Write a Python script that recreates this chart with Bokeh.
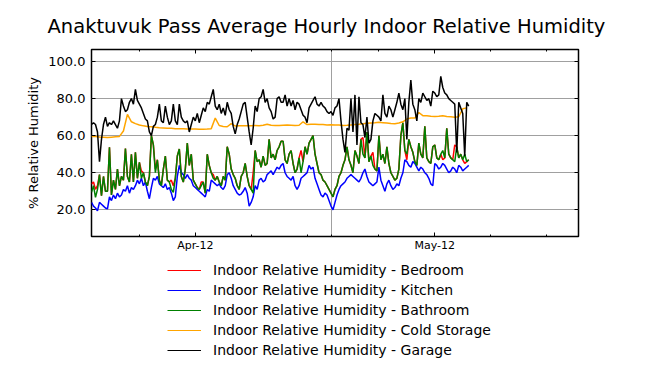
import pandas as pd
from bokeh.plotting import figure
from bokeh.layouts import column
from bokeh.models import (Range1d, FixedTicker, NumeralTickFormatter, LinearAxis,
                          DatetimeAxis, Legend, LegendItem, DatetimeTickFormatter)
from bokeh.embed import file_html
from bokeh.resources import INLINE

# ---------------- data ----------------
title_text = "Anaktuvuk Pass Average Hourly Indoor Relative Humidity"
y_label = "% Relative Humidity"
series_names = [
    "Indoor Relative Humidity - Bedroom",
    "Indoor Relative Humidity - Kitchen",
    "Indoor Relative Humidity - Bathroom",
    "Indoor Relative Humidity - Cold Storage",
    "Indoor Relative Humidity - Garage",
]
series_colors = ["#ff0000", "#0000ff", "#008000", "#ffa500", "#000000"]
start_time = "2012-04-01 00:00"

# 6-hourly readings (one row = two days)
garage = [
    66, 67, 66, 62, 46, 58, 66, 70, 65, 67, 66, 68, 66, 64, 68, 80,
    76, 73, 74, 78, 80, 77, 85, 79, 77, 75, 72, 69, 68, 62, 60, 65,
    66, 70, 77, 68, 67, 76, 70, 66, 68, 77, 68, 66, 77, 70, 68, 67,
    68, 62, 66, 70, 68, 72, 67, 71, 75, 73, 78, 77, 81, 85, 76, 74,
    77, 72, 75, 71, 78, 74, 72, 65, 61, 66, 69, 73, 77, 78, 70, 62,
    55, 64, 76, 73, 80, 81, 85, 78, 80, 75, 73, 69, 70, 80, 81, 78,
    78, 82, 76, 80, 76, 79, 74, 78, 77, 74, 71, 70, 67, 75, 77, 79,
    81, 77, 76, 78, 76, 75, 73, 72, 73, 71, 75, 76, 80, 68, 58, 51,
    64, 63, 80, 62, 82, 55, 81, 67, 66, 59, 70, 56, 58, 68, 72, 71,
    70, 68, 82, 72, 70, 76, 74, 70, 74, 78, 83, 77, 74, 80, 58, 78,
    90, 77, 74, 68, 80, 78, 83, 81, 79, 80, 76, 84, 83, 81, 82, 92,
    86, 83, 82, 80, 79, 78, 77, 51, 78, 75, 72, 49, 78, 76,
]
bathroom = [
    29.4, 33, 26.7, 31, 39, 27.6, 38, 30, 30, 53.7, 28, 36, 31, 42, 33, 38,
    36, 53, 38, 35, 50, 35, 51, 37, 45.6, 37, 40, 35, 33, 38, 60, 55,
    40, 47, 36, 33, 42, 49, 36, 35, 31, 29.4, 37, 49, 52.8, 38, 35, 42,
    56, 44, 50, 36, 34, 32, 31, 33, 35, 29, 50, 44, 40, 37, 36, 38,
    35, 33, 38, 36, 54, 50, 42, 39, 37, 33, 31, 38, 40, 45, 38, 33,
    31, 29, 52, 46, 47, 43, 49, 44, 45, 58, 48, 50, 47, 52, 54, 57,
    57, 47, 45, 50, 52, 45, 40, 42, 48, 40, 46, 54, 50, 56, 58, 60,
    50, 45, 40, 39, 36, 35, 33, 31, 29, 27, 31, 33, 38, 40, 44, 47,
    54, 47, 44, 40, 52, 49, 45, 58, 50, 48, 62, 46, 49, 44, 42, 41,
    60, 47, 50, 45, 54, 45, 40, 38, 36, 37, 42, 60, 67, 52, 50, 58,
    54, 51, 46, 44, 56, 50, 48, 65, 48, 46, 45, 54, 55, 48, 47, 50,
    52, 48, 64, 50, 48, 47, 46, 54, 48, 50, 47, 50, 46, 47,
]
bedroom = [
    34, 35, 31, 33, 39, 27.6, 38, 30, 30, 53.7, 28, 36, 31, 42, 33, 38,
    36, 53, 38, 35, 50, 35, 51, 37, 45.6, 41, 40, 35, 33, 38, 60, 55,
    42, 47, 36, 33, 42, 49, 36, 35, 36, 33, 37, 49, 52.8, 38, 35, 42,
    56, 44, 50, 36, 34, 32, 31, 35, 35, 29, 50, 44, 40, 39, 36, 38,
    35, 33, 38, 36, 54, 50, 42, 39, 37, 33, 31, 38, 40, 45, 38, 33,
    31, 40, 52, 46, 47, 43, 49, 44, 45, 58, 48, 50, 47, 52, 54, 57,
    57, 47, 45, 50, 52, 45, 40, 42, 48, 52, 46, 54, 50, 56, 58, 60,
    50, 45, 40, 39, 36, 35, 33, 31, 29, 27, 31, 33, 38, 40, 44, 47,
    54, 47, 44, 40, 52, 49, 45, 58, 59, 48, 62, 46, 49, 51, 42, 41,
    60, 47, 50, 45, 54, 45, 40, 38, 36, 37, 42, 60, 67, 52, 47, 58,
    54, 51, 46, 44, 56, 50, 48, 65, 48, 46, 45, 54, 55, 48, 47, 50,
    47, 48, 64, 50, 48, 47, 55, 54, 48, 50, 47, 45, 46, 47,
]
kitchen = [
    24, 22, 21, 19.5, 24, 23, 22, 21, 20.5, 27, 25, 28, 26, 29, 27, 28,
    31, 30, 33, 29, 32, 31, 33, 36, 34, 37, 33, 35, 30, 26, 32, 37,
    36, 38, 34, 33, 32, 34, 31, 32, 29, 25, 27, 38, 44, 40, 39, 37,
    39, 37, 36, 33, 32, 31, 30, 29, 28, 27, 31, 30, 36, 35, 34, 33,
    34, 32, 31, 33, 39, 40, 37, 33, 31, 29, 28, 28.5, 30, 32, 29, 22,
    24, 27, 33, 31, 36, 37, 35, 36, 39, 40, 41, 39, 41, 43, 42, 44,
    45, 40, 38, 37, 36, 38, 33, 31, 33, 37, 38, 39, 40, 44, 42, 43,
    37, 34, 31, 28, 27, 29, 28, 25, 22, 20, 24, 28, 31, 33, 34, 35,
    37, 38, 39, 38, 37, 36, 35, 37, 40, 42, 38, 35, 34, 33, 34, 35,
    43, 36, 33, 30, 34, 36, 33, 31, 32, 34, 33, 37, 40, 47, 46, 44,
    43, 46, 45, 43, 41, 43, 42, 40, 39, 37, 34, 33, 45, 44, 42, 43,
    45, 44, 42, 40, 41, 43, 42, 40, 44, 43, 41, 42, 43, 44,
]
# 12-hourly readings
cold_storage = [
    59.5, 59.5, 59.3, 59.2, 59.0, 59.2, 59.4, 59.6, 62.5, 71.5, 67.5, 66.5,
    65.8, 65.3, 65.0, 64.8, 64.5, 64.3, 64.2, 64.0, 64.0, 63.8, 63.8, 63.7,
    63.6, 63.6, 63.6, 63.5, 63.5, 63.6, 63.8, 69.5, 65.5, 65.0, 64.8, 66.5,
    65.2, 65.3, 65.4, 65.3, 65.4, 65.5, 65.4, 65.6, 66.2, 65.6, 65.5, 65.5,
    65.6, 65.7, 65.6, 65.5, 65.6, 67.5, 66.0, 66.2, 66.2, 66.0, 66.0, 65.8,
    65.9, 65.8, 65.7, 65.5, 65.6, 65.8, 66.0, 66.2, 66.5, 66.7, 66.9, 67.0,
    67.2, 67.0, 66.8, 66.6, 66.5, 66.8, 67.5, 69.0, 69.5, 69.5, 72.5, 70.8,
    70.8, 70.5, 70.4, 70.5, 70.8, 70.4, 70.2, 70.0, 70.2, 74.5, 75.0,
]

x_range_dates = ["2012-04-01", "2012-06-01"]
x_label_dates = ["2012-04-14", "2012-05-14"]
x_tick_labels = ["Apr-12", "May-12"]
x_minor_dates = ["2012-04-01", "2012-04-07", "2012-04-21", "2012-04-28",
                 "2012-05-01", "2012-05-07", "2012-05-21", "2012-05-28", "2012-06-01"]
x_grid_dates = ["2012-04-01", "2012-05-01", "2012-06-01"]
y_ticks = [20, 40, 60, 80, 100]
y_limits = [5.6, 106.5]


def ms(d):
    return pd.Timestamp(d).timestamp() * 1000.0


t6 = pd.date_range(start_time, periods=len(garage), freq="6h")
t12 = pd.date_range(start_time, periods=len(cold_storage), freq="12h")

FONT = "DejaVu Sans"
W = 645

p = figure(width=W, height=260, x_axis_type="datetime",
           output_backend="svg", toolbar_location=None,
           x_range=Range1d(ms(x_range_dates[0]), ms(x_range_dates[1])),
           y_range=Range1d(*y_limits),
           min_border_left=91, min_border_right=67,
           min_border_top=49, min_border_bottom=24)

p.title.text = title_text
p.title.align = "left"
p.title.offset = -44
p.title.text_font = FONT
p.title.text_font_size = "19.5px"
p.title.text_font_style = "normal"
p.title.text_color = "black"
p.title.standoff = 24

p.outline_line_color = "black"
p.outline_line_width = 1.5
p.background_fill_color = "white"
p.border_fill_color = "white"

# data lines
series = [(t6, bedroom), (t6, kitchen), (t6, bathroom), (t12, cold_storage), (t6, garage)]
for (tt, vals), col in zip(series, series_colors):
    p.line(tt, vals, line_color=col, line_width=1.5)

# grids
p.xgrid.ticker = FixedTicker(ticks=[ms(d) for d in x_grid_dates])
p.ygrid.ticker = FixedTicker(ticks=y_ticks)
p.grid.grid_line_color = "#a0a0a0"
p.grid.grid_line_width = 1

# axes
xt = FixedTicker(ticks=[ms(d) for d in x_label_dates],
                 minor_ticks=[ms(d) for d in x_minor_dates])
xfmt = DatetimeTickFormatter(days="%b-%y", months="%b-%y", years="%b-%y",
                             hours="%b-%y", hourmin="%b-%y")
xa = p.xaxis[0]
xa.ticker = xt
xa.formatter = xfmt
xa.major_label_overrides = {ms(d): s for d, s in zip(x_label_dates, x_tick_labels)}
xa.major_label_text_font = FONT
xa.major_label_text_font_size = "11px"
xa.major_label_standoff = 2

ya = p.yaxis[0]
ya.ticker = FixedTicker(ticks=y_ticks)
ya.formatter = NumeralTickFormatter(format="0.0")
ya.major_label_text_font = FONT
ya.major_label_text_font_size = "13px"
ya.major_label_standoff = 6
ya.axis_label = y_label
ya.axis_label_text_font = FONT
ya.axis_label_text_font_size = "13px"
ya.axis_label_text_font_style = "normal"
ya.axis_label_text_color = "black"
ya.axis_label_standoff = 4

# tick-only axes on the top and right edges (labels not drawn)
top = DatetimeAxis(ticker=xt, formatter=xfmt, major_label_text_font_size="1px",
                   major_label_text_color=None, major_label_standoff=0)
right = LinearAxis(ticker=FixedTicker(ticks=y_ticks), major_label_text_font_size="1px",
                   major_label_text_color=None, major_label_standoff=0)
p.add_layout(top, "above")
p.add_layout(right, "right")

for ax in [xa, ya, top, right]:
    ax.axis_line_color = None
    ax.major_tick_in = 4
    ax.major_tick_out = 0
    ax.minor_tick_in = 2
    ax.minor_tick_out = 0
    ax.major_tick_line_color = "black"
    ax.minor_tick_line_color = "black"
for ax in [xa, ya]:
    ax.major_label_text_color = "black"
for ax in [ya, right]:
    ax.minor_tick_line_color = None

# ---------------- legend (separate strip below the chart) ----------------
LH = 105
nan = float("nan")
pl = figure(width=W, height=LH, output_backend="svg", toolbar_location=None,
            x_range=Range1d(0, 1), y_range=Range1d(0, 1),
            x_axis_location=None, y_axis_location=None,
            min_border_left=0, min_border_right=0, min_border_top=0, min_border_bottom=0)
pl.grid.visible = False
pl.outline_line_color = None
pl.background_fill_color = "white"
pl.border_fill_color = "white"
key_renderers = [pl.line(x=[nan, nan], y=[nan, nan], line_color=c, line_width=1.2)
                 for c in series_colors]

legend = Legend(
    items=[LegendItem(label=n, renderers=[r]) for n, r in zip(series_names, key_renderers)],
    location=(76, LH - 100), orientation="vertical",
    padding=0, margin=0, spacing=0,
    glyph_width=34, glyph_height=20, label_height=20,
    label_standoff=12,
    label_text_font=FONT, label_text_font_size="14px", label_text_color="black",
    border_line_alpha=0, background_fill_alpha=0,
)
pl.add_layout(legend)

layout = column(p, pl, spacing=0)
open("out.html", "w").write(file_html(layout, INLINE))
